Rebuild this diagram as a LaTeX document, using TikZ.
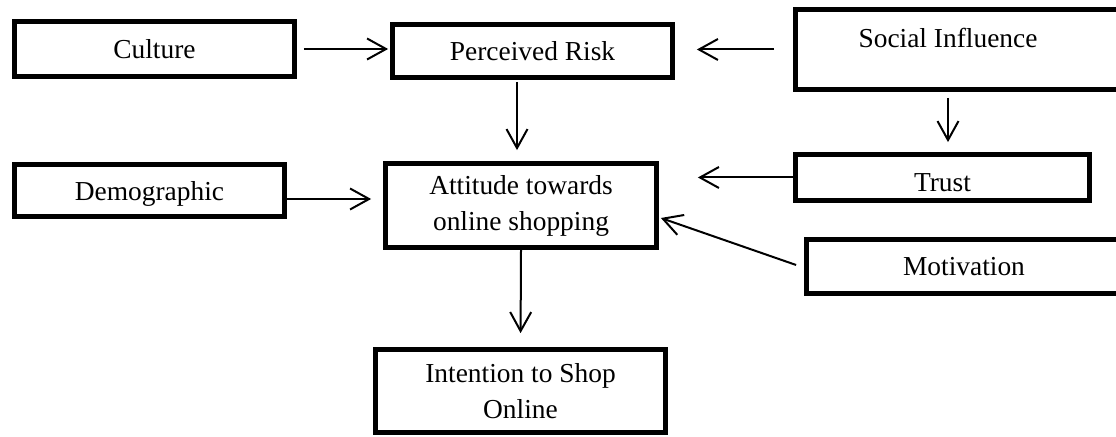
\documentclass[tikz,border=0pt]{standalone}
\usepackage{fontspec}
\setmainfont{Liberation Serif}
\usetikzlibrary{arrows.meta,calc}

\begin{document}
\begin{tikzpicture}[
  box/.style={draw=black, line width=0.095cm, align=center, inner sep=0pt,
    font=\fontsize{15.6pt}{20.5pt}\selectfont},
  arr/.style={line width=0.04cm,
    -{Straight Barb[length=0.38cm,width=0.42cm,line width=0.04cm]}}
]

%─────────────
% Canvas
%─────────────
\def\picW{22.32}  % page width (cm)
\def\picH{8.72}   % page height (cm)
\useasboundingbox (0,0) rectangle (\picW,\picH);
\fill[white] (0,0) rectangle (\picW,\picH);
\clip (0,0) rectangle (\picW,\picH);

%─────────────
% Boxes
%─────────────
% top row
\node[box, minimum width=5.6cm, minimum height=1.1cm] (culture) at (3.09,7.74) {Culture};
\node[box, minimum width=5.6cm, minimum height=1.06cm] (risk) at (10.65,7.70) {Perceived Risk};
\node[box, minimum width=6.54cm, minimum height=1.6cm, text depth=0.46cm] (social) at (19.18,7.73)
  {Social Influence\rule{0.44cm}{0pt}};

% middle row
\node[box, minimum width=5.4cm, minimum height=1.04cm, text depth=0pt] (demo) at (2.99,4.91) {Demographic};
\node[box, minimum width=5.42cm, minimum height=1.68cm] (att) at (10.42,4.61) {Attitude towards\\online shopping};
\node[box, minimum width=5.88cm, minimum height=0.92cm, text height=0.56cm] (trust) at (18.85,5.17) {Trust};
\node[box, minimum width=6.3cm, minimum height=1.08cm] (mot) at (19.28,3.39) {Motivation};

% bottom
\node[box, minimum width=5.8cm, minimum height=1.66cm] (intent) at (10.41,0.90) {Intention to Shop\\Online};

%─────────────
% Arrows
%─────────────
\draw[arr, shorten <=0.14cm, shorten >=0.04cm] (culture.east) -- (culture.east -| risk.west);
\draw[arr, shorten <=0.38cm, shorten >=0.44cm] (social.west) -- (social.west -| risk.east);
\draw[arr, shorten <=0.04cm, shorten >=0.22cm]
  ($(risk.south -| att.north)+(-0.08,0)$) -- ($(att.north)+(-0.08,0)$);
\draw[arr, shorten <=0.12cm, shorten >=0.20cm]
  ($(social.south -| trust.north)+(0.11,0)$) -- ($(trust.north)+(0.11,0)$);
\draw[arr, shorten >=0.24cm]
  ($(demo.east)+(0,-0.17)$) -- ($(demo.east -| att.west)+(0,-0.17)$);
\draw[arr, shorten >=0.78cm] (trust.west) -- (trust.west -| att.east);
\draw[arr] ($(mot.west)+(-0.16,0.03)$) -- ($(att.east)+(0.04,-0.25)$);
\draw[arr, shorten <=-0.06cm, shorten >=0.28cm] (att.south) -- (intent.north);

\end{tikzpicture}
\end{document}
